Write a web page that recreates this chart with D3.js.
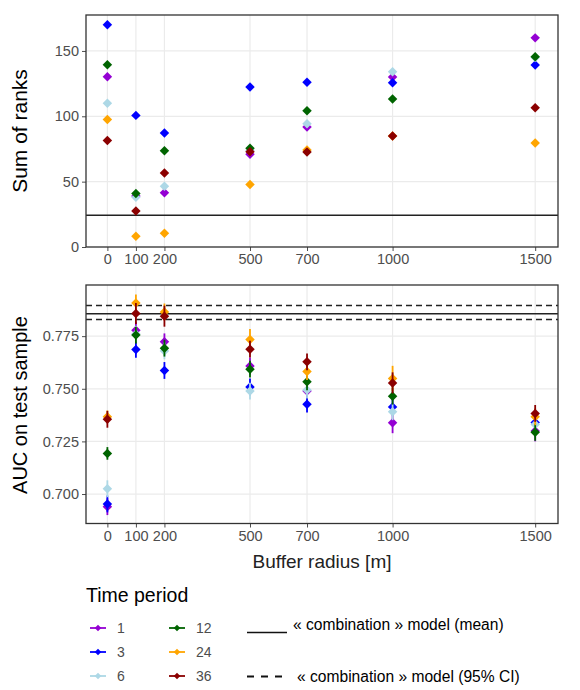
<!DOCTYPE html>
<html>
<head>
<meta charset="utf-8">
<script src="https://cdn.jsdelivr.net/npm/d3@7"></script>
<style>
  body { margin: 0; background: #fff; }
  text { font-family: "Liberation Sans", Arial, sans-serif; }
</style>
</head>
<body>
<div id="chart"></div>
<script>
// buffer radii (x axis) and time periods
var radii = [0, 100, 200, 500, 700, 1000, 1500];
var periods = ["1", "3", "6", "12", "24", "36"];
var colors = ["#9400D3", "#0000FF", "#ADD8E6", "#006400", "#FFA500", "#8B0000"];

// top panel: sum of ranks, one row per period
var ranks1  = [130.3, 39, 41.5, 71, 91.8, 130, 160];
var ranks3  = [170, 100.7, 87.2, 122.4, 126, 125.7, 139.3];
var ranks6  = [110, 38, 46.5, 74, 94.3, 134, 145];
var ranks12 = [139.5, 40.9, 73.6, 75.5, 104.3, 113.2, 145.5];
var ranks24 = [97.6, 8.2, 10.5, 47.8, 74.2, 85, 79.5];
var ranks36 = [81.5, 27.5, 56.7, 72.8, 72.6, 85, 106.5];
var rankLine = 24.3;

// bottom panel: AUC mean and half width of the interval
var auc1  = [0.694, 0.7778, 0.7723, 0.7608, 0.7490, 0.7339, 0.7300];
var auc3  = [0.6953, 0.7687, 0.7587, 0.7509, 0.7427, 0.7414, 0.7340];
var auc6  = [0.7025, 0.7760, 0.7680, 0.7489, 0.7494, 0.7391, 0.7330];
var auc12 = [0.7193, 0.7755, 0.7693, 0.7593, 0.7533, 0.7465, 0.7293];
var auc24 = [0.7367, 0.7908, 0.7865, 0.7734, 0.7582, 0.7549, 0.7367];
var auc36 = [0.7355, 0.7858, 0.7845, 0.7688, 0.7628, 0.7528, 0.7383];
var err1  = [0.004, 0.004, 0.004, 0.004, 0.004, 0.005, 0.005];
var err3  = [0.004, 0.004, 0.004, 0.004, 0.004, 0.004, 0.004];
var err6  = [0.004, 0.004, 0.004, 0.004, 0.004, 0.004, 0.004];
var err12 = [0.003, 0.004, 0.004, 0.004, 0.004, 0.004, 0.004];
var err24 = [0.003, 0.004, 0.004, 0.005, 0.004, 0.006, 0.004];
var err36 = [0.004, 0.005, 0.005, 0.004, 0.004, 0.005, 0.004];
var combMean = 0.7856, combLow = 0.7829, combHigh = 0.7896;

var rankTicks = [0, 50, 100, 150];
var aucTicks = [0.700, 0.725, 0.750, 0.775];

var rankRows = [ranks1, ranks3, ranks6, ranks12, ranks24, ranks36];
var aucRows = [auc1, auc3, auc6, auc12, auc24, auc36];
var errRows = [err1, err3, err6, err12, err24, err36];

var width = 580, height = 690;
var svg = d3.select("#chart").append("svg")
    .attr("width", width)
    .attr("height", height);

var left = 86, right = 558;
var x = d3.scaleLinear().domain([-75, 1580]).range([left, right]);
var yTop = d3.scaleLinear().domain([0, 177.5]).range([247, 15]);
var yBot = d3.scaleLinear().domain([0.686, 0.7993]).range([523.5, 285]);

var gridCol = "#EBEBEB", axisCol = "#4D4D4D", borderCol = "#333333";
var diamond = d3.symbol().type(d3.symbolSquare).size(45);

function panel(y, ticks, fmt) {
    var g = svg.append("g");
    var y0 = y.range()[0], y1 = y.range()[1];
    // grid
    g.selectAll(".gy").data(ticks).enter().append("line")
        .attr("x1", left).attr("x2", right)
        .attr("y1", function (d) { return y(d); })
        .attr("y2", function (d) { return y(d); })
        .style("stroke", gridCol).style("stroke-width", 1.2);
    g.selectAll(".gx").data(radii).enter().append("line")
        .attr("x1", function (d) { return x(d); })
        .attr("x2", function (d) { return x(d); })
        .attr("y1", y0).attr("y2", y1)
        .style("stroke", gridCol).style("stroke-width", 1.2);
    // axes
    var ay = g.append("g").attr("transform", "translate(" + left + ",0)")
        .call(d3.axisLeft(y).tickValues(ticks).tickFormat(fmt).tickSize(4).tickPadding(3));
    var ax = g.append("g").attr("transform", "translate(0," + y0 + ")")
        .call(d3.axisBottom(x).tickValues(radii).tickFormat(d3.format("d")).tickSize(4).tickPadding(3));
    [ay, ax].forEach(function (a) {
        a.select(".domain").remove();
        a.selectAll("line").style("stroke", axisCol);
        a.selectAll("text").style("fill", axisCol).style("font-size", "14.5px")
            .style("font-family", "Liberation Sans, Arial, sans-serif");
    });
    return g;
}

function border(y) {
    svg.append("rect")
        .attr("x", left).attr("y", y.range()[1])
        .attr("width", right - left).attr("height", y.range()[0] - y.range()[1])
        .style("fill", "none").style("stroke", borderCol).style("stroke-width", 1.3);
}

// ---- top panel
panel(yTop, rankTicks, d3.format("d"));
svg.append("line")
    .attr("x1", left).attr("x2", right)
    .attr("y1", yTop(rankLine)).attr("y2", yTop(rankLine))
    .style("stroke", "#222").style("stroke-width", 1.5);

rankRows.forEach(function (row, i) {
    svg.append("g").selectAll("path").data(row).enter().append("path")
        .attr("d", diamond)
        .attr("transform", function (d, j) {
            return "translate(" + x(radii[j]) + "," + yTop(d) + ") rotate(45)";
        })
        .style("fill", colors[i]);
});
border(yTop);

// ---- bottom panel
panel(yBot, aucTicks, d3.format(".3f"));
svg.append("line")
    .attr("x1", left).attr("x2", right)
    .attr("y1", yBot(combMean)).attr("y2", yBot(combMean))
    .style("stroke", "#222").style("stroke-width", 1.5);
[combLow, combHigh].forEach(function (v) {
    svg.append("line")
        .attr("x1", left).attr("x2", right)
        .attr("y1", yBot(v)).attr("y2", yBot(v))
        .style("stroke", "#222").style("stroke-width", 1.5)
        .style("stroke-dasharray", "6,4");
});

aucRows.forEach(function (row, i) {
    var g = svg.append("g");
    g.selectAll("line").data(row).enter().append("line")
        .attr("x1", function (d, j) { return x(radii[j]); })
        .attr("x2", function (d, j) { return x(radii[j]); })
        .attr("y1", function (d, j) { return yBot(d - errRows[i][j]); })
        .attr("y2", function (d, j) { return yBot(d + errRows[i][j]); })
        .style("stroke", colors[i]).style("stroke-width", 1.8);
    g.selectAll("path").data(row).enter().append("path")
        .attr("d", diamond)
        .attr("transform", function (d, j) {
            return "translate(" + x(radii[j]) + "," + yBot(d) + ") rotate(45)";
        })
        .style("fill", colors[i]);
});
border(yBot);

// ---- axis titles
svg.append("text")
    .attr("transform", "translate(27,131) rotate(-90)")
    .attr("text-anchor", "middle")
    .style("font-size", "21px")
    .text("Sum of ranks");
svg.append("text")
    .attr("transform", "translate(27,405) rotate(-90)")
    .attr("text-anchor", "middle")
    .style("font-size", "20px")
    .text("AUC on test sample");
svg.append("text")
    .attr("x", (left + right) / 2).attr("y", 568)
    .attr("text-anchor", "middle")
    .style("font-size", "19px")
    .style("fill", "#222")
    .text("Buffer radius [m]");

// ---- legend
svg.append("text")
    .attr("x", 86).attr("y", 602)
    .style("font-size", "19.5px")
    .text("Time period");

var legend = svg.append("g");
periods.forEach(function (p, i) {
    var col = Math.floor(i / 3), row = i % 3;
    var kx = 98 + col * 79, ky = 628 + row * 24;
    var item = legend.append("g");
    item.append("line")
        .attr("x1", kx - 8).attr("x2", kx + 8)
        .attr("y1", ky).attr("y2", ky)
        .style("stroke", colors[i]).style("stroke-width", 1.8);
    item.append("path")
        .attr("d", d3.symbol().type(d3.symbolSquare).size(22))
        .attr("transform", "translate(" + kx + "," + ky + ") rotate(45)")
        .style("fill", colors[i]);
    item.append("text")
        .attr("x", kx + 19).attr("y", ky + 5)
        .style("font-size", "14px")
        .style("fill", axisCol)
        .text(p);
});

svg.append("line")
    .attr("x1", 247).attr("x2", 287)
    .attr("y1", 632.5).attr("y2", 632.5)
    .style("stroke", "#111").style("stroke-width", 1.3);
svg.append("text")
    .attr("x", 293).attr("y", 630)
    .style("font-size", "15.6px")
    .text("\u00ab combination \u00bb model (mean)");
svg.append("line")
    .attr("x1", 247).attr("x2", 287)
    .attr("y1", 676.5).attr("y2", 676.5)
    .style("stroke", "#111").style("stroke-width", 1.8)
    .style("stroke-dasharray", "7,7");
svg.append("text")
    .attr("x", 297).attr("y", 682)
    .style("font-size", "15.6px")
    .text("\u00ab combination \u00bb model (95% CI)");
</script>
</body>
</html>
